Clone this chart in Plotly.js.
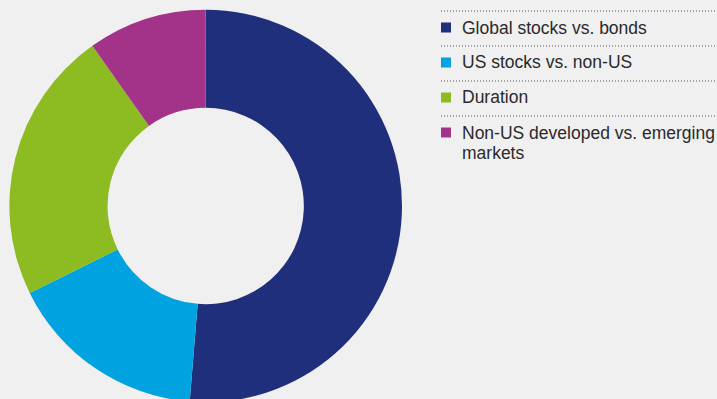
<!DOCTYPE html>
<html>
<head>
<meta charset="utf-8">
<script src="https://cdn.plot.ly/plotly-3.0.1.min.js"></script>
<style>
html,body{margin:0;padding:0;background:#f0f0f0;overflow:hidden;}
#chart{width:717px;height:412px;}
</style>
</head>
<body>
<div id="chart"></div>
<script>
// Data
const categories = ["Global stocks vs. bonds", "US stocks vs. non-US", "Duration", "Non-US developed vs. emerging markets"];
const legendLines = [["Global stocks vs. bonds"], ["US stocks vs. non-US"], ["Duration"], ["Non-US developed vs. emerging", "markets"]];
const values = [51.3, 16.4, 22.5, 9.8];
const colors = ["#1f2f7c", "#00a3e0", "#8cbb22", "#a33388"];

const W = 717, H = 412;
const px = x => x / W;
const py = y => (H - y) / H;

const cx = 205.7, cy = 206, R = 196.3;

const trace = {
  type: "pie",
  labels: categories,
  values: values,
  marker: {colors: colors, line: {width: 0}},
  hole: 0.5,
  sort: false,
  direction: "clockwise",
  rotation: 0,
  textinfo: "none",
  hoverinfo: "label+value",
  showlegend: false,
  domain: {x: [px(cx - R), px(cx + R)], y: [py(cy + R), py(cy - R)]}
};

const shapes = [];
const annotations = [];
const rowTop = 11, rowStep = 35, lineStep = 20;
for (let i = 0; i < categories.length; i++) {
  const ly = rowTop + rowStep * i;
  shapes.push({type: "line", xref: "paper", yref: "paper",
    x0: px(441), x1: px(717), y0: py(ly), y1: py(ly),
    line: {color: "#555555", width: 1, dash: "1px,2px"}});
  shapes.push({type: "rect", xref: "paper", yref: "paper",
    x0: px(441), x1: px(451), y0: py(ly + 11.5), y1: py(ly + 21.5),
    fillcolor: colors[i], line: {width: 0}});
  legendLines[i].forEach((t, j) => {
    annotations.push({xref: "paper", yref: "paper", x: px(460), y: py(ly + 16.5 + j * lineStep),
      xanchor: "left", yanchor: "middle", align: "left", showarrow: false,
      text: t,
      font: {family: "Liberation Sans, Arial, sans-serif", size: 17.5, color: "#2a2a2a"}});
  });
}

const layout = {
  width: W, height: H,
  margin: {l: 0, r: 0, t: 0, b: 0},
  paper_bgcolor: "#f0f0f0",
  plot_bgcolor: "#f0f0f0",
  showlegend: false,
  shapes: shapes,
  annotations: annotations
};

Plotly.newPlot("chart", [trace], layout, {displayModeBar: false, staticPlot: true});
</script>
</body>
</html>
